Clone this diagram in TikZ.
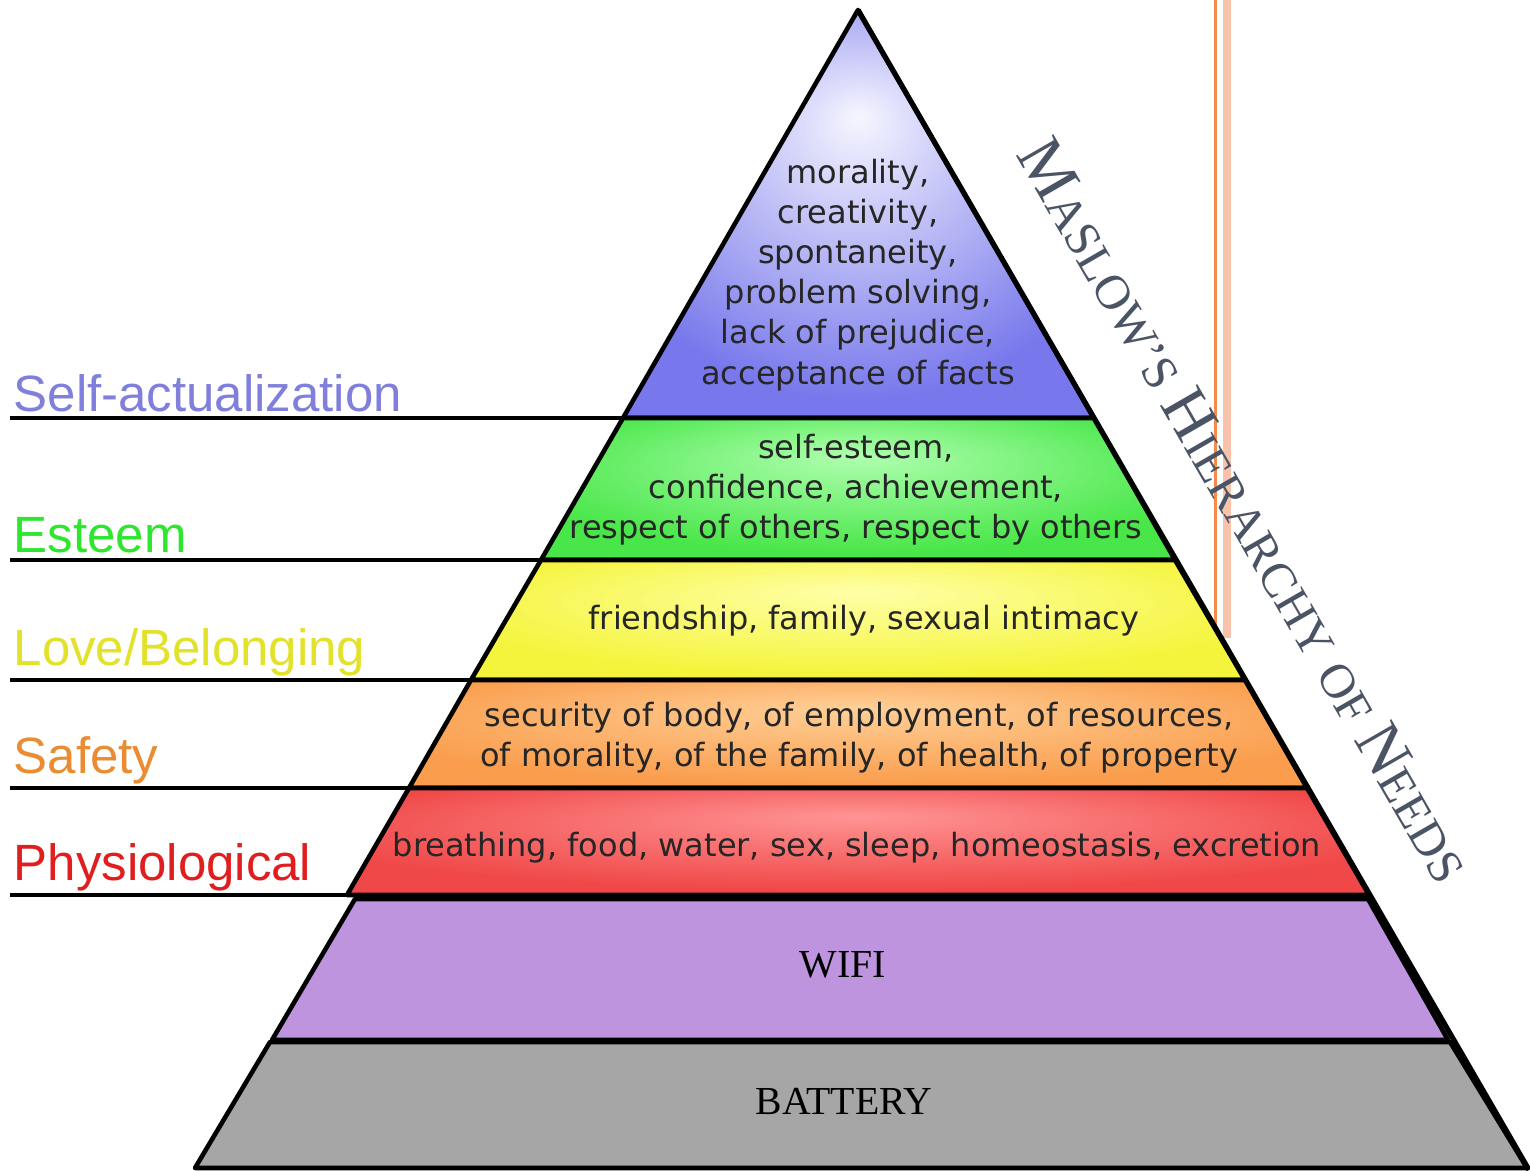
\documentclass[tikz,border=0pt]{standalone}
\usepackage{fontspec}
\usetikzlibrary{calc}
\setmainfont{Liberation Serif}
\newfontfamily\dejavu{DejaVu Sans}
\newfontfamily\arialf{Liberation Sans}
\newfontfamily\titlef{Liberation Serif}
\definecolor{selfin}{HTML}{F6F6FF}
\definecolor{selfout}{HTML}{7878EC}
\definecolor{estin}{HTML}{B0FFB0}
\definecolor{estout}{HTML}{48E648}
\definecolor{lovein}{HTML}{FFFFA8}
\definecolor{loveout}{HTML}{F4F43C}
\definecolor{safin}{HTML}{FFD098}
\definecolor{safout}{HTML}{FA9E4E}
\definecolor{phin}{HTML}{FF9494}
\definecolor{phout}{HTML}{F04848}
\definecolor{wifi}{HTML}{BF94DF}
\definecolor{batt}{HTML}{A6A6A6}
\definecolor{orgdark}{HTML}{F58A4A}
\definecolor{orglight}{HTML}{F9C2AA}
\definecolor{labself}{HTML}{8080DC}
\definecolor{labest}{HTML}{2EE62E}
\definecolor{lablove}{HTML}{E2E22A}
\definecolor{labsaf}{HTML}{EB8C32}
\definecolor{labph}{HTML}{E11E1E}
\definecolor{titlecol}{HTML}{4A5464}
\pgfdeclareradialshading{selfsh}{\pgfpoint{0bp}{12bp}}{color(0bp)=(selfin);color(28bp)=(selfout);color(50bp)=(selfout)}
\pgfdeclareradialshading{estsh}{\pgfpoint{0bp}{12bp}}{color(0bp)=(estin);color(28bp)=(estout);color(50bp)=(estout)}
\pgfdeclareradialshading{lovesh}{\pgfpoint{0bp}{12bp}}{color(0bp)=(lovein);color(28bp)=(loveout);color(50bp)=(loveout)}
\pgfdeclareradialshading{safsh}{\pgfpoint{0bp}{12bp}}{color(0bp)=(safin);color(28bp)=(safout);color(50bp)=(safout)}
\pgfdeclareradialshading{physh}{\pgfpoint{0bp}{12bp}}{color(0bp)=(phin);color(28bp)=(phout);color(50bp)=(phout)}
\newcommand\mhBig[1]{{\fontsize{18.7}{21}\selectfont #1}}
\newcommand\mhSm[1]{{\fontsize{13.9}{16}\selectfont #1}}
\begin{document}
\begin{tikzpicture}[x=0.01cm,y=-0.01cm,
  layer/.style={draw=black,line width=1.3pt,line join=round},
  ltext/.style={font=\dejavu\fontsize{9.1}{11.4}\selectfont,align=center,text=black!85,inner sep=0pt},
  lab/.style={font=\arialf\fontsize{14.5}{17}\selectfont,anchor=base west,inner sep=0pt},
  base/.style={font=\titlef\fontsize{11.3}{13}\selectfont,inner sep=0pt,text=black},
  ttl/.style={font=\titlef,text=titlecol,rotate=-60,inner sep=0pt,anchor=base west},
  sepline/.style={line width=1.1pt}]
\useasboundingbox (0,0) rectangle (1530,1171);
\fill[white] (0,0) rectangle (1530,1171);
% orange margin lines
\fill[orgdark] (1214,0) rectangle (1217,638);
\fill[orglight] (1223,0) rectangle (1231,638);
% corner coordinates
\coordinate (A) at (858,10);
\coordinate (s1l) at (623,418); \coordinate (s1r) at (1094,418);
\coordinate (s2l) at (541,560); \coordinate (s2r) at (1175,560);
\coordinate (s3l) at (471,680); \coordinate (s3r) at (1245,680);
\coordinate (s4l) at (409,788); \coordinate (s4r) at (1307,788);
\coordinate (s5l) at (347,895); \coordinate (s5r) at (1369,895);
\coordinate (w1) at (355,899); \coordinate (w2) at (1368,899);
\coordinate (w3) at (1448,1040); \coordinate (w4) at (272,1040);
\coordinate (b1) at (270,1042); \coordinate (b2) at (1450,1042);
\coordinate (b3) at (1527,1168); \coordinate (b4) at (195,1168);
\coordinate (BR) at (1529,1170);
% layers
\shadedraw[shading=selfsh,layer] (A) -- (s1r) -- (s1l) -- cycle;
\shadedraw[shading=estsh,layer] (s1l) -- (s1r) -- (s2r) -- (s2l) -- cycle;
\shadedraw[shading=lovesh,layer] (s2l) -- (s2r) -- (s3r) -- (s3l) -- cycle;
\shadedraw[shading=safsh,layer] (s3l) -- (s3r) -- (s4r) -- (s4l) -- cycle;
\shadedraw[shading=physh,layer] (s4l) -- (s4r) -- (s5r) -- (s5l) -- cycle;
\filldraw[fill=wifi,layer] (w1) -- (w2) -- (w3) -- (w4) -- cycle;
\filldraw[fill=batt,layer] (b1) -- (b2) -- (b3) -- (b4) -- cycle;
\draw[line width=1.5pt] (A) -- (BR);
% left separator lines
\coordinate (l1) at (10,418); \coordinate (l2) at (10,560);
\coordinate (l3) at (10,680); \coordinate (l4) at (10,788);
\coordinate (l5) at (10,895);
\draw[sepline] (l1) -- (s1l);
\draw[sepline] (l2) -- (s2l);
\draw[sepline] (l3) -- (s3l);
\draw[sepline] (l4) -- (s4l);
\draw[sepline] (l5) -- (s5l);
% left labels
\node[lab,text=labself] (labA) at (13,412) {Self-actualization};
\node[lab,text=labest] (labB) at (13,553) {Esteem};
\node[lab,text=lablove] (labC) at (13,666) {Love/Belonging};
\node[lab,text=labsaf] (labD) at (13,774) {Safety};
\node[lab,text=labph] (labE) at (13,881) {Physiological};
% layer texts
\node[ltext] (tA) at (858,275) {morality,\\creativity,\\spontaneity,\\problem solving,\\lack of prejudice,\\acceptance of facts};
\node[ltext] (tB) at (856,490) {self-esteem,\\confidence, achievement,\\respect of others, respect by others};
\node[ltext] (tC) at (864,621) {friendship, family, sexual intimacy};
\node[ltext] (tD) at (859,738) {security of body, of employment, of resources,\\of morality, of the family, of health, of property};
\node[ltext] (tE) at (857,848) {breathing, food, water, sex, sleep, homeostasis, excretion};
\node[base] (tW) at (843,965) {WIFI};
\node[base] (tBa) at (844,1101) {BATTERY};
% title, word by word along the slope
\node[ttl] (ti1) at (1015,154) {\mhBig{M}\mhSm{ASLOW’S}};
\node[ttl] (ti2) at ($(ti1.base east)+(-60:3.4pt)$) {\mhBig{H}\mhSm{IERARCHY}};
\node[ttl] (ti3) at ($(ti2.base east)+(-60:3.4pt)$) {\mhSm{OF}};
\node[ttl] (ti4) at ($(ti3.base east)+(-60:3.4pt)$) {\mhBig{N}\mhSm{EEDS}};
\end{tikzpicture}
\end{document}
